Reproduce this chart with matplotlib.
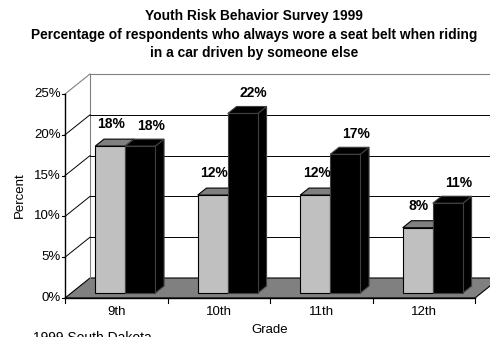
import matplotlib.pyplot as plt
from matplotlib.patches import Polygon

plt.rcParams['font.family'] = ['Liberation Sans', 'DejaVu Sans']

grades = ['9th', '10th', '11th', '12th']
series_a = [18, 12, 12, 8]    # light gray
series_b = [18, 22, 17, 11]   # black
y_ticks = [0, 5, 10, 15, 20, 25]

# depth of the 3d box, in data units
DX = 0.244
DY = 2.45
d0, d1 = 0.25, 0.6   # bar depth slice

fig = plt.figure(figsize=(4.9, 3.37), dpi=100)
ax = fig.add_axes([65/490, 39/337, 410/490, 204/337])
ax.set_xlim(0, 4)
ax.set_ylim(0, 25)
ax.axis('off')


def poly(pts, fc, ec, lw=0.8, z=1):
    ax.add_patch(Polygon(pts, closed=True, facecolor=fc, edgecolor=ec,
                         linewidth=lw, zorder=z, clip_on=False))


def line(xs, ys, c='black', lw=0.8, z=2):
    ax.plot(xs, ys, color=c, lw=lw, zorder=z, clip_on=False)


# back wall + left wall
poly([(DX, DY), (4.3, DY), (4.3, 25 + DY), (DX, 25 + DY)], 'white', 'none', z=0)
line([0, DX], [25, 25 + DY], c='#808080')
line([DX, 4.3], [25 + DY, 25 + DY], c='#808080')
line([DX, DX], [DY, 25 + DY], c='#808080')
for t in y_ticks[1:-1]:
    line([0, DX], [t, t + DY], c='black', lw=0.7)
    line([DX, 4.3], [t + DY, t + DY], c='black', lw=0.7)

# floor
poly([(0, 0), (4, 0), (4 + DX, DY), (DX, DY)], '#808080', 'black', z=1)

# axes lines
line([0, 0], [0, 25], lw=1.0, z=5)
line([0, 4], [0, 0], lw=1.0, z=5)
for t in y_ticks:
    line([-0.03, 0], [t, t], lw=0.8, z=5)
    ax.text(-0.04, t, f'{t}%', ha='right', va='center', fontsize=9.5)
for i in range(5):
    line([i, i], [0, -0.6], lw=0.8, z=5)
for i, g in enumerate(grades):
    ax.text(i + 0.5, -1.0, g, ha='center', va='top', fontsize=9.5)


def bar3d(x0, w, h, fc, top, side, ec, shift, lift):
    fx, fy = d0 * DX, d0 * DY
    bx, by = d1 * DX, d1 * DY
    # side, top, front
    poly([(x0 + w + fx, fy), (x0 + w + bx, by), (x0 + w + bx, h + by),
          (x0 + w + fx, h + fy)], side, ec, z=3)
    poly([(x0 + fx, h + fy), (x0 + w + fx, h + fy), (x0 + w + bx, h + by),
          (x0 + bx, h + by)], top, ec, z=3)
    poly([(x0 + fx, fy), (x0 + w + fx, fy), (x0 + w + fx, h + fy),
          (x0 + fx, h + fy)], fc, ec, z=3)
    ax.text(x0 + w / 2 + (d0 + d1) / 2 * DX + shift, h + by + lift, f'{h}%',
            ha='center', va='bottom', fontsize=10, fontweight='bold', zorder=6)


bw = 0.293
x_off = 0.234
for i in range(len(grades)):
    bar3d(i + x_off, bw, series_a[i], '#C0C0C0', '#808080', '#808080', 'black', -0.03, 1.0)
    bar3d(i + x_off + bw, bw, series_b[i], 'black', 'black', 'black', '#404040', 0.06, 0.8)

fig.text(254/490, 1 - 9/337, 'Youth Risk Behavior Survey 1999\n'
         'Percentage of respondents who always wore a seat belt when riding\n'
         'in a car driven by someone else',
         ha='center', va='top', fontsize=9.9, fontweight='bold', linespacing=1.42)
fig.text(20/490, 1 - 195/337, 'Percent', rotation=90, ha='center', va='center', fontsize=9.5)
fig.text(270/490, 1 - 324/337, 'Grade', ha='center', va='top', fontsize=9.5)
fig.text(33/490, 1 - 331/337, '1999 South Dakota', ha='left', va='top', fontsize=10)

fig.savefig('out.png', dpi=100)
